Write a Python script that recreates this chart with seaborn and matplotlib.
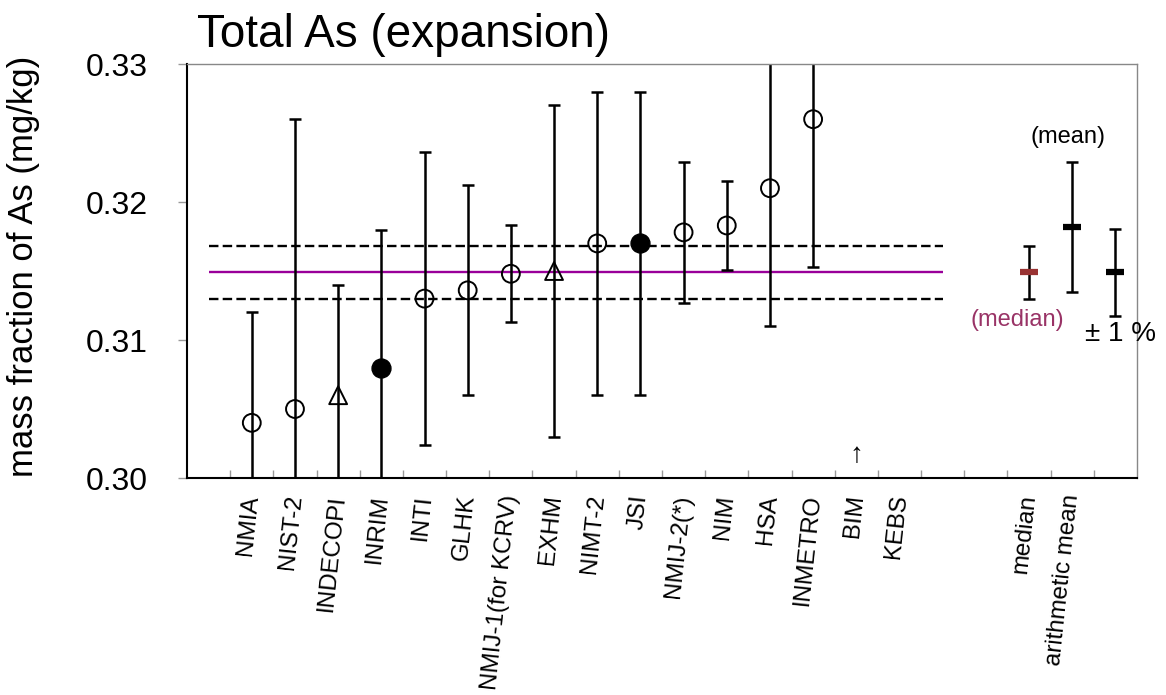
import numpy as np
import pandas as pd
import matplotlib
matplotlib.use('Agg')
import matplotlib.pyplot as plt
import seaborn as sns

# Lab results (mg/kg) with expanded uncertainties
labs = ['NMIA', 'NIST-2', 'INDECOPI', 'INRIM', 'INTI', 'GLHK', 'NMIJ-1(for KCRV)', 'EXHM',
        'NIMT-2', 'JSI', 'NMIJ-2(*)', 'NIM', 'HSA', 'INMETRO', 'BIM', 'KEBS']
values = [0.3040, 0.3050, 0.3060, 0.3080, 0.3130, 0.3136, 0.3148, 0.3150,
          0.3170, 0.3170, 0.3178, 0.3183, 0.3210, 0.3260, np.nan, np.nan]
uncs = [0.0080, 0.0210, 0.0080, 0.0100, 0.0106, 0.0076, 0.0035, 0.0120,
        0.0110, 0.0110, 0.0051, 0.0032, 0.0100, 0.0107, np.nan, np.nan]
kinds = ['open', 'open', 'triangle', 'filled', 'open', 'open', 'open', 'triangle',
         'open', 'filled', 'open', 'open', 'open', 'open', 'none', 'none']

# summary statistics
stat_names = ['median', 'arithmetic mean', '']
stat_values = [0.3149, 0.3182, 0.3149]
stat_uncs = [0.0019, 0.0047, 0.00315]
stat_colors = ['#993333', 'black', 'black']

ref_median = 0.3149
ref_low, ref_high = 0.3130, 0.3168

df = pd.DataFrame({'lab': labs, 'x': np.arange(1, len(labs) + 1),
                   'value': values, 'unc': uncs, 'kind': kinds})
stats = pd.DataFrame({'name': stat_names, 'x': [19, 20, 21],
                      'value': stat_values, 'unc': stat_uncs, 'color': stat_colors})

sns.set_theme(style='ticks')
plt.rcParams['font.family'] = ['Liberation Sans', 'DejaVu Sans']
plt.rcParams['text.color'] = 'black'
plt.rcParams['axes.labelcolor'] = 'black'

fig, ax = plt.subplots(figsize=(11.66, 6.95), dpi=100)
fig.subplots_adjust(left=0.1604, right=0.9751, bottom=0.3122, top=0.9079)

# reference lines
ax.hlines(ref_median, 0, 17, color='#990099', lw=1.7, zorder=1)
ax.hlines([ref_low, ref_high], 0, 17, color='black', lw=1.7,
          linestyles=(0, (4, 1.8)), zorder=1)

# error bars
ax.errorbar(df['x'], df['value'], yerr=df['unc'], fmt='none', ecolor='black',
            elinewidth=1.8, capsize=4.2, capthick=1.8, zorder=2)
ax.errorbar(stats['x'], stats['value'], yerr=stats['unc'], fmt='none', ecolor='black',
            elinewidth=1.8, capsize=4.2, capthick=1.8, zorder=2)

# markers
sns.scatterplot(data=df[df['kind'] == 'open'], x='x', y='value', marker='o', s=165,
                facecolor='none', edgecolor='black', linewidth=1.4, ax=ax, zorder=3)
sns.scatterplot(data=df[df['kind'] == 'filled'], x='x', y='value', marker='o', s=185,
                color='black', edgecolor='black', linewidth=1.0, ax=ax, zorder=3)
sns.scatterplot(data=df[df['kind'] == 'triangle'], x='x', y='value', marker='^', s=165,
                facecolor='none', edgecolor='black', linewidth=1.4, ax=ax, zorder=3)
for _, r in stats.iterrows():
    ax.plot(r['x'], r['value'], ls='none', marker='_', ms=13, mew=4.5,
            color=r['color'], zorder=3)

# annotations
ax.text(19.9, 0.3247, '(mean)', fontsize=17, ha='center', va='center')
ax.text(18.72, 0.31145, '(median)', fontsize=17, ha='center', va='center', color='#993366')
ax.text(20.3, 0.3104, '± 1 %', fontsize=20, ha='left', va='center')
ax.text(15, 0.3017, '↑', fontsize=20, ha='center', va='center')

ax.set_xlim(-0.5, 21.5)
ax.set_ylim(0.30, 0.33)
ax.set_yticks([0.30, 0.31, 0.32, 0.33], ['0.30', '0.31', '0.32', '0.33'])

tick_pos = list(df['x']) + [19, 20]
tick_lab = labs + stat_names[:2]
ax.set_xticks(tick_pos, tick_lab, rotation=84, ha='right', va='center',
              rotation_mode='anchor', fontsize=17.5)
ax.set_xticks(np.arange(0.5, 21, 1), minor=True)
ax.tick_params(axis='x', which='major', length=0, pad=12, labelcolor='black')
ax.tick_params(axis='x', which='minor', direction='in', length=6, width=1, color='#999999')
ax.tick_params(axis='y', which='major', direction='out', length=6.5, width=1,
               color='#999999', pad=22, labelsize=23, labelcolor='black')

ax.set_xlabel('')
ax.set_ylabel('mass fraction of As (mg/kg)', fontsize=25)
ax.yaxis.set_label_coords(-0.155, 0.512)

for s in ['left', 'bottom']:
    ax.spines[s].set_color('black')
    ax.spines[s].set_linewidth(1.5)
for s in ['top', 'right']:
    ax.spines[s].set_color('#888888')
    ax.spines[s].set_linewidth(1.0)

fig.text(197 / 1166, 1 - 47 / 695, 'Total As (expansion)', fontsize=33,
         ha='left', va='baseline')

fig.savefig('out.png', dpi=100)
